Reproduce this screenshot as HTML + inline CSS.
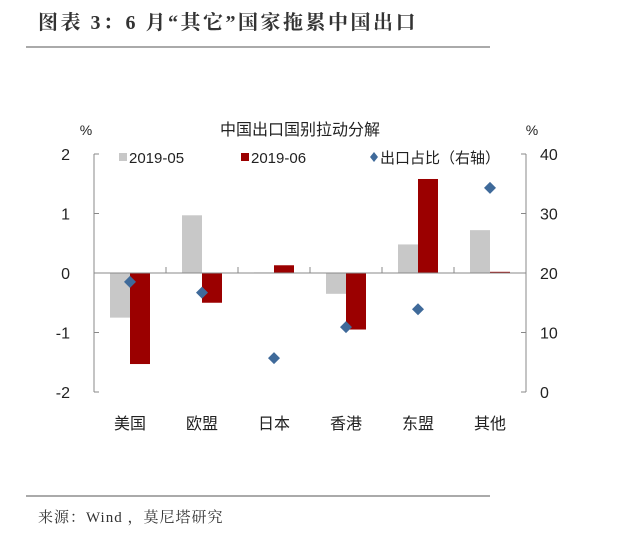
<!DOCTYPE html>
<html><head><meta charset="utf-8"><style>
body{margin:0;background:#fff;width:620px;height:535px;overflow:hidden}
svg text{font-family:"Liberation Sans","Noto Sans CJK SC",sans-serif}
</style></head><body>
<svg width="620" height="535">
<text x="38" y="29" font-size="20" font-weight="bold" fill="#333" style="font-family:'Liberation Serif','Noto Serif CJK SC',serif;letter-spacing:2.5px">图表 3：6 月“其它”国家拖累中国出口</text>
<line x1="26" y1="47" x2="490" y2="47" stroke="#555" stroke-width="1"/>
<text x="300" y="135" font-size="16" text-anchor="middle" fill="#222">中国出口国别拉动分解</text>
<text x="86" y="135" font-size="14" text-anchor="middle" fill="#222">%</text>
<text x="532" y="135" font-size="14" text-anchor="middle" fill="#222">%</text>
<g id="plot"></g>
<line x1="26" y1="496" x2="490" y2="496" stroke="#555" stroke-width="1"/>
<text x="38" y="522" font-size="15" fill="#333" style="font-family:'Liberation Serif','Noto Serif CJK SC',serif;letter-spacing:1px">来源：Wind ，莫尼塔研究</text>
</svg>
<script>
const categories=["美国","欧盟","日本","香港","东盟","其他"];
const may=[-0.75,0.97,0.01,-0.35,0.48,0.72];
const jun=[-1.53,-0.5,0.13,-0.95,1.58,0.02];
const share=[18.5,16.7,5.7,10.9,13.9,34.3];
const leftTicks=[2,1,0,-1,-2];
const rightTicks=[40,30,20,10,0];
const NS="http://www.w3.org/2000/svg";
const g=document.getElementById('plot');
const X0=94,X1=526,YT=154,YB=392;
const yL=v=>YT+(2-v)/4*(YB-YT);
const yR=v=>YB-v/40*(YB-YT);
const bw=(X1-X0)/categories.length;
const cx=i=>X0+bw*(i+0.5);
function mk(t,a){const e=document.createElementNS(NS,t);for(const k in a)e.setAttribute(k,a[k]);g.appendChild(e);return e;}
let e;
e=mk('line',{x1:X0,y1:YT,x2:X0,y2:YB,stroke:'#888'});


e=mk('line',{x1:X1,y1:YT,x2:X1,y2:YB,stroke:'#888'});


leftTicks.forEach(v=>{
 mk('line',{x1:X0,y1:yL(v),x2:X0+5,y2:yL(v),stroke:'#888'});
 e=mk('text',{x:X0-24,y:yL(v)+6,'font-size':16,'text-anchor':'end',fill:'#222'});e.textContent=v;
 
 
});
rightTicks.forEach(v=>{
 mk('line',{x1:X1-5,y1:yR(v),x2:X1,y2:yR(v),stroke:'#888'});
 e=mk('text',{x:X1+14,y:yR(v)+6,'font-size':16,fill:'#222'});e.textContent=v;
 
 
});
categories.forEach((c,i)=>{
 e=mk('rect',{x:cx(i)-20,y:Math.min(yL(0),yL(may[i])),width:20,height:Math.max(1,Math.abs(yL(may[i])-yL(0))),fill:'#c8c8c8'});
 
 
 e=mk('rect',{x:cx(i),y:Math.min(yL(0),yL(jun[i])),width:20,height:Math.max(1,Math.abs(yL(jun[i])-yL(0))),fill:'#9b0000'});
 
 
 e=mk('text',{x:cx(i),y:429,'font-size':16,'text-anchor':'middle',fill:'#222'});e.textContent=c;
 
 
 if(i>0) mk('line',{x1:X0+bw*i,y1:yL(0)-6,x2:X0+bw*i,y2:yL(0),stroke:'#888'});
});
e=mk('line',{x1:X0,y1:yL(0),x2:X1,y2:yL(0),stroke:'#888'});


share.forEach((v,i)=>{
 const x=cx(i),y=yR(v);
 e=mk('polygon',{points:`${x},${y-6} ${x+6},${y} ${x},${y+6} ${x-6},${y}`,fill:'#3f6a9a'});
 
 
});
const L=[['#c8c8c8','2019-05',119,'rect'],['#9b0000','2019-06',241,'rect'],['#3f6a9a','出口占比（右轴）',370,'dia']];
L.forEach(l=>{
 if(l[3]=='rect') mk('rect',{x:l[2],y:153,width:8,height:8,fill:l[0]});
 else mk('polygon',{points:`${l[2]+4},${152} ${l[2]+8},${157} ${l[2]+4},${162} ${l[2]},${157}`,fill:l[0]});
 e=mk('text',{x:l[2]+10,y:163,'font-size':15,fill:'#222'});e.textContent=l[1];
 
 
});
</script>
</body></html>
